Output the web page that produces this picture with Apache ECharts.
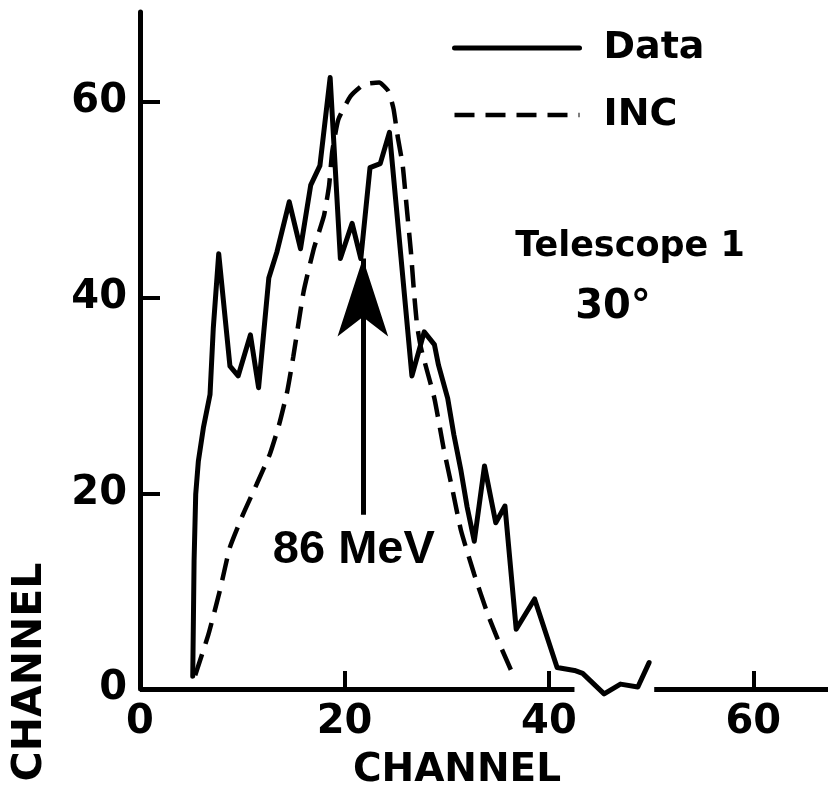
<!DOCTYPE html>
<html><head><meta charset="utf-8">
<script src="https://cdn.jsdelivr.net/npm/echarts@6/dist/echarts.min.js"></script>
<style>html,body{margin:0;padding:0;background:#fff}#c{width:828px;height:795px}</style>
</head><body><div id="c"></div>
<script>
// Measured spectrum (channel, counts)
const dataCurve = [
  [5.16, 1.3], [5.29, 13.1], [5.45, 19.9], [5.71, 23.3], [6.2, 26.7], [6.85, 30.1],
  [7.17, 36.9], [7.7, 44.5], [8.8, 33.0], [9.6, 32.0], [10.8, 36.2], [11.6, 30.8],
  [12.6, 42.0], [13.4, 44.7], [14.6, 49.8], [15.7, 45.0], [16.7, 51.5], [17.6, 53.5],
  [18.6, 62.5], [19.6, 44.0], [20.75, 47.6], [21.6, 44.0], [22.5, 53.3], [23.5, 53.7],
  [24.4, 56.9], [26.6, 32.0], [27.8, 36.5], [28.8, 35.2], [29.2, 33.1], [30.1, 29.7],
  [30.7, 26.0], [31.4, 22.3], [32.0, 18.6], [32.7, 15.1], [33.7, 22.8], [34.8, 17.0],
  [35.7, 18.7], [36.8, 6.1], [38.6, 9.2], [40.8, 2.2], [42.5, 1.9], [43.3, 1.6],
  [45.4, -0.5], [47.0, 0.5], [48.7, 0.2], [49.8, 2.7]
];
// INC calculation
const incCurve = [
  [5.4, 1.4], [6.7, 5.6], [7.8, 10.0], [8.8, 14.5], [10.1, 17.9], [11.4, 20.9],
  [12.7, 24.0], [13.6, 27.0], [14.4, 30.4], [15.0, 34.0], [16.0, 40.6], [17.0, 45.0],
  [18.0, 48.4], [18.5, 51.5], [18.8, 54.9], [19.4, 58.2], [20.6, 60.6], [21.9, 61.8],
  [23.4, 62.0], [24.3, 61.1], [24.8, 59.3], [25.2, 56.5], [25.7, 53.5], [26.1, 49.1],
  [26.5, 44.7], [26.8, 40.6], [27.1, 37.2], [27.5, 34.8], [28.8, 29.7], [29.7, 24.6],
  [30.6, 20.2], [31.4, 16.2], [32.7, 11.7], [34.0, 7.7], [35.3, 4.3], [36.6, 1.2]
];
const xTicks = [20, 40, 60];
const yTicks = [20, 40, 60];
const xLabels = [0, 20, 40, 60];
const yLabels = [0, 20, 40, 60];
const xRange = [0, 67.3];
const yRange = [0, 69.2];
const xAxisSegments = [[0, 42.5], [50.3, 67.3]];
const arrowChannel = 21.8, arrowFrom = 17.8, arrowTo = 44;
const arrowLabel = '86 MeV';
const seriesNames = ['Data', 'INC'];
const noteTitle = 'Telescope 1';
const noteAngle = '30°';
const axisTitle = 'CHANNEL';

const FONT = 'DejaVu Sans';
const chart = echarts.init(document.getElementById('c'), null, {renderer: 'canvas'});
chart.setOption({
  backgroundColor: '#fff',
  animation: false,
  grid: {left: 140, top: 12, right: 0, bottom: 102.5},
  legend: {
    data: [
      {name: seriesNames[0], lineStyle: {width: 5, type: 'solid'}},
      {name: seriesNames[1], lineStyle: {width: 4.5, type: [20, 11]}}
    ],
    orient: 'vertical', left: 447, top: 24,
    itemWidth: 125, itemHeight: 30, itemGap: 29,
    itemStyle: {color: 'rgba(0,0,0,0)', borderWidth: 0, opacity: 0},
    textStyle: {fontFamily: FONT, fontWeight: 'bold', fontSize: 38, color: '#000', lineHeight: 30, padding: [0, 0, 0, 19]}
  },
  xAxis: {
    type: 'value', min: xRange[0], max: xRange[1],
    axisLine: {show: false},
    axisTick: {show: true, inside: true, length: 18, customValues: xTicks, lineStyle: {color: '#000', width: 4}},
    axisLabel: {customValues: xLabels, fontFamily: FONT, fontWeight: 'bold', fontSize: 40, color: '#000', margin: 14},
    splitLine: {show: false},
    name: axisTitle, nameLocation: 'middle', nameGap: 62,
    nameTextStyle: {fontFamily: FONT, fontWeight: 'bold', fontSize: 39, color: '#000', verticalAlign: 'top', padding: [0, 54, 0, 0]}
  },
  yAxis: {
    type: 'value', min: yRange[0], max: yRange[1],
    axisLine: {show: true, lineStyle: {color: '#000', width: 5}},
    axisTick: {show: true, inside: true, length: 20, customValues: yTicks, lineStyle: {color: '#000', width: 4}},
    axisLabel: {customValues: yLabels, fontFamily: FONT, fontWeight: 'bold', fontSize: 40, color: '#000', margin: 13},
    splitLine: {show: false}
  },
  graphic: [
    {type: 'text', x: 630, y: 247, style: {text: noteTitle, fontFamily: FONT, fontWeight: 'bold', fontSize: 35, fill: '#000', textAlign: 'center', textVerticalAlign: 'middle'}},
    {type: 'text', x: 613, y: 308, style: {text: noteAngle, fontFamily: FONT, fontWeight: 'bold', fontSize: 40, fill: '#000', textAlign: 'center', textVerticalAlign: 'middle'}},
    {type: 'text', x: 30, y: 672, rotation: Math.PI / 2, style: {text: axisTitle, fontFamily: FONT, fontWeight: 'bold', fontSize: 41, fill: '#000', textAlign: 'center', textVerticalAlign: 'middle'}}
  ],
  series: [
    {
      name: 'Data', type: 'line', data: dataCurve, symbol: 'none', clip: false,
      lineStyle: {color: '#000', width: 5, join: 'round', cap: 'round'}, itemStyle: {color: '#000'}
    },
    {
      name: 'INC', type: 'line', data: incCurve, symbol: 'none', clip: false, smooth: 0.15,
      lineStyle: {color: '#000', width: 4.5, type: [22, 11]}, itemStyle: {color: '#000'}
    },
    {
      name: 'axisSegments', type: 'line', data: [], silent: true,
      markLine: {
        silent: true, symbol: ['none', 'none'], animation: false,
        lineStyle: {color: '#000', width: 5, type: 'solid'}, label: {show: false},
        data: xAxisSegments.map(s => [{coord: [s[0], 0]}, {coord: [s[1], 0]}])
      }
    },
    {
      name: 'arrow', type: 'line', data: [], silent: true,
      markLine: {
        silent: true, symbol: ['none', 'arrow'], symbolSize: [38, 78], animation: false,
        lineStyle: {color: '#000', width: 5, type: 'solid'},
        label: {show: true, position: 'start', formatter: arrowLabel, distance: 12, fontFamily: 'Liberation Sans', fontWeight: 'bold', fontSize: 47, color: '#000', offset: [-9, 0]},
        data: [[{coord: [arrowChannel, arrowFrom]}, {coord: [arrowChannel, arrowTo]}]]
      }
    }
  ]
});
</script>
</body></html>
